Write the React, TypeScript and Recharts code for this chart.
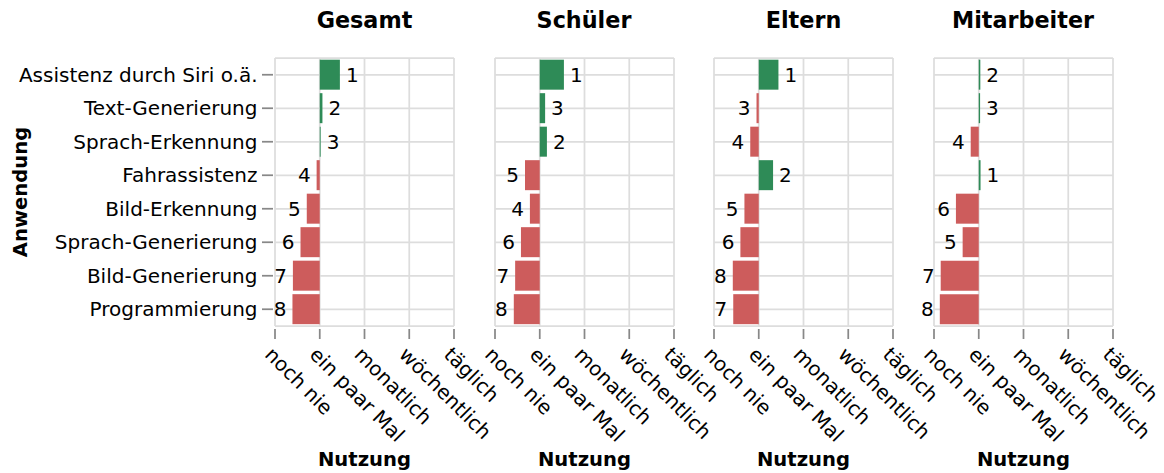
import React from 'react';
import { BarChart, Bar, XAxis, YAxis, CartesianGrid, Cell, LabelList, Label } from 'recharts';

// Anwendungen (y-Kategorien) und Nutzungsstufen (x-Achse, 0..4)
const anwendungen = [
  'Assistenz durch Siri o.ä.',
  'Text-Generierung',
  'Sprach-Erkennung',
  'Fahrassistenz',
  'Bild-Erkennung',
  'Sprach-Generierung',
  'Bild-Generierung',
  'Programmierung',
];
const nutzungStufen = ['noch nie', 'ein paar Mal', 'monatlich', 'wöchentlich', 'täglich'];
const gruppen = ['Gesamt', 'Schüler', 'Eltern', 'Mitarbeiter'];

// mittlere Nutzung je Gruppe, Balken starten bei "ein paar Mal" (= 1)
const gesamtWerte = [1.45, 1.06, 1.02, 0.93, 0.71, 0.57, 0.4, 0.39];
const gesamtRang = [1, 2, 3, 4, 5, 6, 7, 8];
const schuelerWerte = [1.54, 1.12, 1.16, 0.67, 0.78, 0.58, 0.45, 0.42];
const schuelerRang = [1, 3, 2, 5, 4, 6, 7, 8];
const elternWerte = [1.44, 0.95, 0.81, 1.32, 0.68, 0.59, 0.42, 0.43];
const elternRang = [1, 3, 4, 2, 5, 6, 8, 7];
const mitarbeiterWerte = [1.035, 1.03, 0.82, 1.04, 0.49, 0.64, 0.15, 0.13];
const mitarbeiterRang = [2, 3, 4, 1, 6, 5, 7, 8];

const werteListe = [gesamtWerte, schuelerWerte, elternWerte, mitarbeiterWerte];
const rangListe = [gesamtRang, schuelerRang, elternRang, mitarbeiterRang];

const GREEN = '#2e8b57';
const RED = '#cd5c5c';
const GRID = '#dddddd';
const TICK = '#888888';
const FONT = '"DejaVu Sans", sans-serif';
const FS = 20;
const FS_TITLE = 19.6;

const W = 1164;
const H = 473;
const PLOT_TOP = 58;
const PLOT_BOTTOM = 326;
const PLOT_W = 179;
const plotLefts = [275, 494.5, 714, 933.5];

const XTick = (props: any) => {
  const { x, y, payload } = props;
  const ty = y + 18.6;
  return (
    <g>
      <line x1={x} x2={x} y1={y + 3} y2={y + 13} stroke={TICK} strokeWidth={1.75} />
      <text
        x={x}
        y={ty}
        dy="0.79em"
        transform={`rotate(45 ${x} ${ty})`}
        textAnchor="start"
        fontSize={FS}
        fontFamily={FONT}
        fill="#000"
      >
        {nutzungStufen[payload.value]}
      </text>
    </g>
  );
};

const YTick = (props: any) => {
  const { x, y, payload } = props;
  return (
    <g>
      <line x1={x - 13} x2={x - 2} y1={y} y2={y} stroke={TICK} strokeWidth={1.75} />
      <text x={x - 17.5} y={y} textAnchor="end" dominantBaseline="central" fontSize={FS} fontFamily={FONT} fill="#000">
        {payload.value}
      </text>
    </g>
  );
};

const makeRankLabel = (werte: number[]) => (props: any) => {
  const vb = props.viewBox && props.viewBox.width !== undefined ? props.viewBox : props;
  const x = Number(vb.x);
  const w = Number(vb.width);
  const y = Number(vb.y) + Number(vb.height) / 2;
  const up = werte[props.index] >= 1;
  const lx = up ? Math.max(x, x + w) + 6 : Math.min(x, x + w) - 6;
  return (
    <text x={lx} y={y} textAnchor={up ? 'start' : 'end'} dominantBaseline="central" fontSize={FS} fontFamily={FONT} fill="#000">
      {props.value}
    </text>
  );
};

function Panel({ index }: { index: number }) {
  const first = index === 0;
  const werte = werteListe[index];
  const rang = rangListe[index];
  const data = anwendungen.map((name, i) => ({ name, wert: werte[i], rang: rang[i] }));
  const mLeft = first ? 0 : 45;
  const yW = first ? plotLefts[0] : 0;
  const left = first ? 0 : plotLefts[index] - mLeft;
  const mRight = 60;
  const width = mLeft + yW + PLOT_W + mRight;

  return (
    <div style={{ position: 'absolute', left, top: 0 }}>
      <BarChart
        width={width}
        height={H}
        data={data}
        layout="vertical"
        margin={{ top: PLOT_TOP, right: mRight, bottom: 0, left: mLeft }}
        barCategoryGap="5%"
      >
        <CartesianGrid
          stroke={GRID}
          strokeWidth={1.75}
          horizontalCoordinatesGenerator={({ offset }: any) => {
            const step = offset.height / anwendungen.length;
            return [
              offset.top,
              ...anwendungen.map((_, i) => offset.top + step * (i + 0.5)),
              offset.top + offset.height,
            ];
          }}
        />
        <XAxis
          type="number"
          domain={[0, 4]}
          ticks={[0, 1, 2, 3, 4]}
          interval={0}
          height={H - PLOT_BOTTOM}
          axisLine={false}
          tickLine={false}
          tickSize={0}
          tickMargin={0}
          tick={<XTick />}
        >
          <Label
            content={(p: any) => {
              const vb = p.viewBox;
              return (
                <text x={vb.x + vb.width / 2} y={466} textAnchor="middle" fontSize={FS_TITLE} fontWeight="bold" fontFamily={FONT} fill="#000">
                  Nutzung
                </text>
              );
            }}
          />
        </XAxis>
        <YAxis
          type="category"
          dataKey="name"
          width={yW}
          hide={!first}
          axisLine={false}
          tickLine={false}
          tickSize={0}
          tickMargin={0}
          interval={0}
          tick={<YTick />}
        >
          {first && (
            <Label
              content={() => {
                const cy = (PLOT_TOP + PLOT_BOTTOM) / 2;
                return (
                  <text x={27} y={cy} transform={`rotate(-90 27 ${cy})`} textAnchor="middle" fontSize={FS_TITLE} fontWeight="bold" fontFamily={FONT} fill="#000">
                    Anwendung
                  </text>
                );
              }}
            />
          )}
        </YAxis>
        <Bar dataKey={(d: any) => [1, d.wert]} isAnimationActive={false}>
          {data.map((d, i) => (
            <Cell key={i} fill={d.wert >= 1 ? GREEN : RED} />
          ))}
          <LabelList dataKey="rang" content={makeRankLabel(werte)} />
        </Bar>
      </BarChart>
    </div>
  );
}

export default function App() {
  return (
    <div style={{ position: 'absolute', left: 0, top: 0, width: W, height: H, background: '#fff', fontFamily: FONT, overflow: 'hidden' }}>
      {gruppen.map((g, i) => (
        <Panel key={g} index={i} />
      ))}
      <svg width={W} height={50} style={{ position: 'absolute', left: 0, top: 0, pointerEvents: 'none' }}>
        {gruppen.map((g, i) => (
          <text key={g} x={plotLefts[i] + PLOT_W / 2} y={28.3} textAnchor="middle" fontSize={22.3} fontWeight="bold" fontFamily={FONT} fill="#000">
            {g}
          </text>
        ))}
      </svg>
    </div>
  );
}
